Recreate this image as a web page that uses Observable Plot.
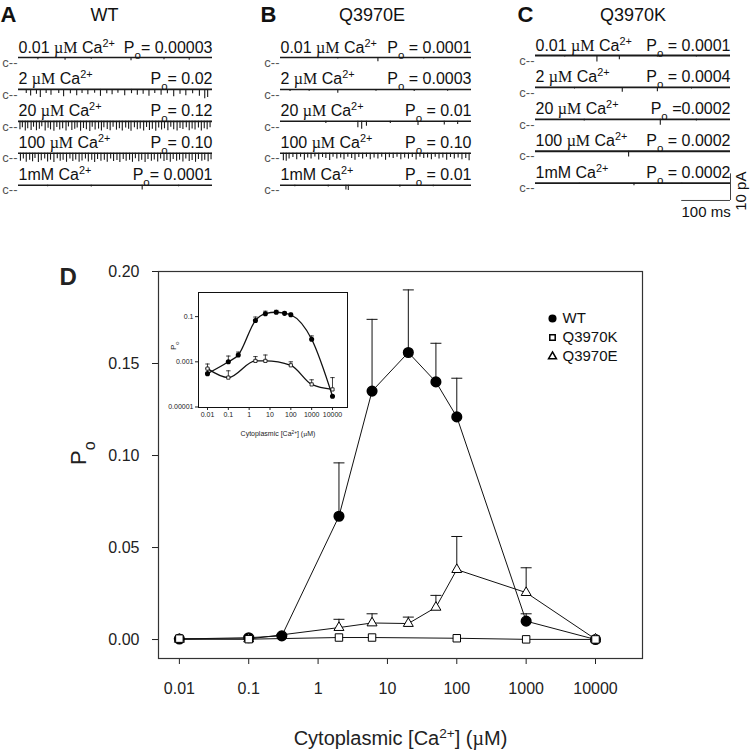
<!DOCTYPE html>
<html><head><meta charset="utf-8">
<script src="https://cdn.jsdelivr.net/npm/d3@7"></script>
<script src="https://cdn.jsdelivr.net/npm/@observablehq/plot@0.6"></script>
<style>
body{margin:0;background:#fff;}
#fig{position:relative;width:750px;height:750px;overflow:hidden;font-family:"Liberation Sans",Arial,sans-serif;color:#111;}
#fig svg{position:absolute;}
</style></head><body><div id="fig"></div>
<script>
// ---------- Panel D data ----------
const xTicks = [0.01, 0.1, 1, 10, 100, 1000, 10000];
const xTickLabels = ["0.01", "0.1", "1", "10", "100", "1000", "10000"];
const yTicks = [0, 0.05, 0.10, 0.15, 0.20];
const yTickLabels = ["0.00", "0.05", "0.10", "0.15", "0.20"];
const insetYTicks = [0.00001, 0.001, 0.1];
const insetYTickLabels = ["0.00001", "0.001", "0.1"];

const wtConc = [0.01, 0.1, 0.3, 2, 6, 20, 50, 100, 1000, 10000];
const wtPo   = [0.0003, 0.001, 0.002, 0.067, 0.135, 0.156, 0.140, 0.121, 0.010, 0.00003];
const wtErr  = [0.0002, 0.0008, 0.0007, 0.029, 0.039, 0.034, 0.021, 0.021, 0.004, 0];

const kConc = [0.01, 0.1, 2, 6, 100, 1000, 10000];
const kPo   = [0.0005, 0.0002, 0.0011, 0.0011, 0.0007, 0.0001, 0.00006];
const kErr  = [0.0003, 0.0002, 0.0006, 0.0009, 0.0003, 0.00006, 0.00014];

const eConc = [0.01, 0.1, 2, 6, 20, 50, 100, 1000, 10000];
const ePo   = [0.0001, 0.0003, 0.0065, 0.009, 0.0087, 0.0175, 0.038, 0.0255, 0.0002];
const eErr  = [0, 0, 0.0045, 0.005, 0.0035, 0.0065, 0.018, 0.0135, 0];

const legendNames = ["WT", "Q3970K", "Q3970E"];
const legendSymbols = ["circle", "square", "triangle"];
const legendFills = ["black", "white", "white"];

const xTitle = "Cytoplasmic [Ca^{2+}] (~{µ}M)";
const yTitle = "P_{o}";

// ---------- Panels A-C data (single-channel traces) ----------
const traceDuration = 400;      // ms
const scaleBarMs = 100;
const scaleBarPA = 10;
const caLabels = ["0.01 ~{µM} Ca^{2+}", "2 ~{µM} Ca^{2+}", "20 ~{µM} Ca^{2+}", "100 ~{µM} Ca^{2+}", "1mM Ca^{2+}"];
const poWT = ["P_{o}= 0.00003", "P_{o}= 0.02", "P_{o}= 0.12", "P_{o}= 0.10", "P_{o}= 0.0001"];
const poE  = ["P_{o} = 0.0001", "P_{o} = 0.0003", "P_{o} = 0.01", "P_{o} = 0.10", "P_{o} = 0.01"];
const poK  = ["P_{o} = 0.0001", "P_{o} = 0.0004", "P_{o} =0.0002", "P_{o} = 0.0002", "P_{o} = 0.0002"];

// openings: [time ms, amplitude pA]
const wtEvents = [
  [[40,0.8],[96,1.0],[150,0.7],[232,1.2],[300,0.8],[352,1.0]],
  [[16,1.5],[25,2.5],[37,1.8],[45,3],[57,1.5],[67,2.2],[83,1.5],[93,2.8],[107,1.6],[120,2.4],[131,1.5],[143,2],[157,1.4],[169,2.6],[182,1.6],[193,2],[205,1.4],[219,2.4],[233,1.6],[245,2.2],[257,1.8],[269,2.6],[281,1.5],[294,2.2],[307,1.6],[320,2.8],[333,1.8],[345,2.4],[359,1.6],[373,2.6],[384,3.5],[390,3]],
  [[3,3.2],[8,2.4],[14,3.6],[19,2.8],[26,3.4],[31,2.2],[37,3.5],[43,3.0],[48,2.0],[55,3.6],[61,2.6],[66,3.2],[73,3.7],[79,2.3],[85,3.3],[91,2.8],[98,3.6],[103,2.1],[110,3.4],[116,3.0],[121,2.5],[128,3.7],[134,2.7],[140,3.2],[147,3.8],[152,2.2],[158,3.3],[165,2.9],[171,3.6],[176,2.4],[183,3.1],[189,3.5],[195,2.2],[202,3.3],[208,2.8],[214,3.6],[221,2.5],[227,3.0],[232,3.7],[239,2.4],[245,3.2],[251,2.9],[258,3.6],[264,2.3],[270,3.4],[276,3.0],[283,3.7],[289,2.5],[295,3.3],[301,2.8],[308,3.5],[314,2.2],[320,3.2],[327,3.6],[333,2.7],[339,3.1],[346,2.4],[352,3.5],[358,2.9],[364,3.3],[371,2.5],[377,3.6],[383,2.8],[389,3.2],[395,2.4]],
  [[4,3.0],[10,2.2],[16,3.4],[23,2.6],[29,3.2],[34,2.0],[41,3.5],[47,2.8],[54,2.2],[60,3.3],[66,2.6],[73,3.5],[80,2.1],[86,3.0],[92,2.6],[99,3.4],[106,2.2],[112,3.1],[118,2.5],[125,3.4],[131,2.9],[138,2.2],[144,3.3],[151,2.6],[157,3.5],[163,2.3],[170,3.0],[177,2.6],[183,3.4],[190,2.2],[196,3.1],[203,2.7],[209,3.5],[216,2.3],[222,3.0],[229,2.6],[235,3.4],[241,2.1],[248,3.2],[254,2.6],[261,3.5],[267,2.3],[274,3.0],[280,2.5],[287,3.3],[293,2.2],[300,3.1],[306,2.7],[313,3.4],[319,2.3],[326,3.0],[332,2.6],[339,3.3],[345,2.2],[352,3.1],[358,2.7],[365,3.4],[371,2.3],[378,3.0],[384,2.6],[391,3.2],[397,2.4]],
  [[60,0.6],[150,0.7],[255,1.8],[330,0.6]]
];
const eEvents = [
  [[120,0.6],[204,1.6],[300,0.6]],
  [[20,0.8],[60,0.7],[120,1.4],[200,0.7],[280,0.8],[350,0.7]],
  [[95,0.8],[162,2.4],[170,3.0],[180,1.8],[230,0.8],[288,1.6],[343,1.4],[371,1.2]],
  [[6,2.8],[12,3.0],[18,2.2],[26,1.6],[34,2.4],[42,1.5],[50,2.6],[57,1.8],[64,2.2],[72,1.4],[80,2.5],[88,1.6],[95,2.0],[103,2.7],[110,1.5],[118,2.2],[126,1.8],[133,2.4],[141,1.5],[149,2.0],[156,2.6],[164,1.6],[172,2.2],[180,1.5],[188,2.4],[196,1.8],[204,2.2],[212,1.5],[220,2.6],[228,1.7],[236,2.0],[244,1.5],[252,2.4],[260,1.8],[268,2.2],[276,1.6],[284,2.5],[292,1.5],[300,2.0],[308,1.8],[316,2.4],[324,1.5],[332,2.2],[340,1.8],[348,2.6],[356,1.6],[364,2.2],[372,1.8],[380,2.4],[388,2.0],[395,2.8]],
  [[30,0.6],[100,0.7],[137,1.8],[142,2.0],[250,0.8],[320,0.6]]
];
const kEvents = [
  [[60,0.6],[126,2.4],[172,1.6],[250,0.6],[330,0.6]],
  [[80,0.6],[178,1.8],[250,1.6],[320,0.6]],
  [[100,0.6],[256,2.2],[330,0.6]],
  [[191,2.2]],
  [[90,0.5],[202,1.0],[300,0.5]]
];
const rowLevels = [0, -12, -24, -36, -48]; // pA offset of each sweep
const pxPerPA = 2.66;

// ---------- helpers ----------
const fig = document.getElementById("fig");
const FONT = "Liberation Sans, Arial, sans-serif";
function rich(svg) {
  svg.querySelectorAll("text").forEach(t => {
    const targets = t.querySelectorAll("tspan").length ? [...t.querySelectorAll("tspan")] : [t];
    targets.forEach(el => {
      const s = el.textContent;
      if (!/[\^_~]\{/.test(s)) return;
      el.textContent = "";
      const re = /([\^_~])\{([^}]*)\}/g;
      let last = 0, m;
      while ((m = re.exec(s))) {
        if (m.index > last) el.appendChild(document.createTextNode(s.slice(last, m.index)));
        const ts = document.createElementNS("http://www.w3.org/2000/svg", "tspan");
        ts.textContent = m[2];
        if (m[1] === "^") { ts.setAttribute("baseline-shift", "super"); ts.setAttribute("font-size", "68%"); }
        else if (m[1] === "_") { ts.setAttribute("baseline-shift", "sub"); ts.setAttribute("font-size", "72%"); }
        else { ts.setAttribute("font-family", "Liberation Serif, Times New Roman, serif"); }
        el.appendChild(ts);
        last = re.lastIndex;
      }
      if (last < s.length) el.appendChild(document.createTextNode(s.slice(last)));
    });
  });
}
function place(svg, left, top) {
  svg.style.left = left + "px";
  svg.style.top = top + "px";
  fig.appendChild(svg);
  rich(svg);
}
const capSymbol = {draw(ctx, size) { const w = Math.sqrt(size / Math.PI); ctx.moveTo(-w, 0); ctx.lineTo(w, 0); }};
const rec = (conc, po, err) => conc.map((c, i) => ({c, po: po[i], err: err[i]}));
const wt = rec(wtConc, wtPo, wtErr), kk = rec(kConc, kPo, kErr), ee = rec(eConc, ePo, eErr);
const fmtX = d => xTickLabels[xTicks.indexOf(d)];

// ---------- trace panels ----------
function tracePanel({letter, title, letterDx, titleDx, po, events, width, height, mL, mR, row0, lw, scaleBar}) {
  const rows = rowLevels.map((level, i) => ({level, t0: 0, t1: traceDuration, ca: caLabels[i], po: po[i]}));
  const ev = events.flatMap((row, i) => row.map(([t, a]) => ({t, level: rowLevels[i], a})));
  const marks = [
    Plot.ruleY(rows, {y: "level", x1: "t0", x2: "t1", stroke: "#1a1a1a", strokeWidth: lw}),
    Plot.ruleX(ev, {x: "t", y1: "level", y2: d => d.level - d.a, stroke: "#1a1a1a", strokeWidth: 1.1}),
    Plot.text(rows, {frameAnchor: "left", y: "level", text: () => "c--", textAnchor: "end", dx: -1, dy: 5, fontSize: 13, fill: "#555"}),
    Plot.text(rows, {x: "t0", y: "level", text: "ca", textAnchor: "start", lineAnchor: "bottom", dy: -5, fontSize: 16}),
    Plot.text(rows, {x: "t1", y: "level", text: "po", textAnchor: "end", lineAnchor: "bottom", dy: -5, fontSize: 16}),
    Plot.text([letter], {frameAnchor: "top-left", text: d => d, textAnchor: "start", lineAnchor: "bottom", dx: letterDx, dy: 21, fontSize: 22, fontWeight: "bold"}),
    Plot.text([title], {frameAnchor: "top", text: d => d, lineAnchor: "bottom", dx: titleDx, dy: 20, fontSize: 18})
  ];
  if (scaleBar) {
    const y0 = rowLevels[rowLevels.length - 1] - 6.5;
    const bar = [{x1: traceDuration - scaleBarMs, x2: traceDuration, xm: traceDuration - scaleBarMs / 2, y: y0, y2: y0 + scaleBarPA, ym: y0 + scaleBarPA / 2}];
    marks.push(
      Plot.ruleY(bar, {y: "y", x1: "x1", x2: "x2", stroke: "#444", strokeWidth: 1}),
      Plot.ruleX(bar, {x: "x2", y1: "y", y2: "y2", stroke: "#444", strokeWidth: 1}),
      Plot.text(bar, {x: "xm", y: "y", text: () => scaleBarMs + " ms", lineAnchor: "top", dy: 6, fontSize: 15}),
      Plot.text(bar, {x: "x2", y: "ym", text: () => scaleBarPA + " pA", rotate: -90, dx: 11, dy: 4, fontSize: 15})
    );
  }
  return Plot.plot({
    width, height, marginLeft: mL, marginRight: mR, marginTop: 0, marginBottom: 0,
    style: {background: "transparent", fontFamily: FONT, color: "#111", overflow: "visible"},
    x: {domain: [0, traceDuration], axis: null},
    y: {domain: [(row0 - height) / pxPerPA, row0 / pxPerPA], axis: null},
    marks
  });
}
place(tracePanel({letter: "A", title: "WT", letterDx: -18, titleDx: -11, po: poWT, events: wtEvents, width: 250, height: 200, mL: 18, mR: 38, row0: 57, lw: 1.6}), 0, 0);
place(tracePanel({letter: "B", title: "Q3970E", letterDx: -20, titleDx: -4, po: poE, events: eEvents, width: 250, height: 200, mL: 30, mR: 29, row0: 57, lw: 1.5}), 250, 0);
place(tracePanel({letter: "C", title: "Q3970K", letterDx: -18, titleDx: 0, po: poK, events: kEvents, width: 250, height: 235, mL: 35, mR: 20, row0: 55, lw: 1.8, scaleBar: true}), 500, 0);

// ---------- main panel D ----------
const main = Plot.plot({
  width: 750, height: 510, marginLeft: 158, marginRight: 108, marginTop: 31, marginBottom: 92,
  style: {background: "transparent", fontFamily: FONT, fontSize: "16px", color: "#222", overflow: "visible"},
  x: {type: "log", domain: [0.005, 47600], ticks: xTicks, tickFormat: fmtX, tickSize: 6, tickPadding: 18, label: null},
  y: {domain: [-0.0103, 0.2], ticks: yTicks, tickFormat: d => yTickLabels[yTicks.indexOf(d)], tickSize: 6, tickPadding: 13, label: null},
  marks: [
    Plot.frame({stroke: "#333", strokeWidth: 1.2}),
    Plot.line(ee, {x: "c", y: "po", stroke: "#111", strokeWidth: 1}),
    Plot.line(kk, {x: "c", y: "po", stroke: "#111", strokeWidth: 1}),
    Plot.line(wt, {x: "c", y: "po", stroke: "#111", strokeWidth: 1}),
    Plot.ruleX([...wt, ...ee].filter(d => d.err > 0), {x: "c", y1: "po", y2: d => d.po + d.err, stroke: "#111", strokeWidth: 1}),
    Plot.dot([...wt, ...ee].filter(d => d.err > 0), {x: "c", y: d => d.po + d.err, symbol: capSymbol, r: 5.5, fill: "none", stroke: "#111", strokeWidth: 1}),
    Plot.dot(wt, {x: "c", y: "po", r: 4.8, fill: "black", stroke: "black"}),
    Plot.dot(ee, {x: "c", y: "po", symbol: "triangle", r: 3.7, fill: "white", stroke: "black", strokeWidth: 1}),
    Plot.dot(kk, {x: "c", y: "po", symbol: "square", r: 4.2, fill: "white", stroke: "black", strokeWidth: 1}),
    Plot.text([xTitle], {frameAnchor: "bottom", text: d => d, lineAnchor: "bottom", dy: 86, fontSize: 20}),
    Plot.text([yTitle], {frameAnchor: "left", text: d => d, rotate: -90, dx: -80, fontSize: 22}),
    Plot.text(["D"], {frameAnchor: "top-left", text: d => d, textAnchor: "start", lineAnchor: "bottom", dx: -99, dy: 13, fontSize: 24, fontWeight: "bold"})
  ]
});
place(main, 0, 240);

// ---------- legend ----------
const legendData = legendNames.map((name, i) => ({name, symbol: legendSymbols[i], fill: legendFills[i]}));
const legend = Plot.plot({
  width: 110, height: 60, margin: 0,
  style: {background: "transparent", fontFamily: FONT, color: "#111"},
  x: {axis: null}, y: {type: "point", domain: legendNames, range: [10, 48], padding: 0, axis: null},
  symbol: {type: "identity"}, color: {type: "identity"},
  marks: [
    Plot.dot(legendData, {y: "name", frameAnchor: "left", dx: 10, symbol: "symbol", fill: "fill", stroke: "black", r: d => d.symbol === "circle" ? 4.2 : d.symbol === "square" ? 3.6 : 3.3}),
    Plot.text(legendData, {y: "name", frameAnchor: "left", dx: 20, text: "name", textAnchor: "start", fontSize: 15})
  ]
});
place(legend, 542, 308);

// ---------- inset ----------
const inset = Plot.plot({
  width: 210, height: 165, marginLeft: 48, marginRight: 13, marginTop: 12, marginBottom: 38,
  style: {background: "transparent", fontFamily: FONT, fontSize: "7px", color: "#222", overflow: "visible"},
  x: {type: "log", domain: [0.0037, 52500], ticks: xTicks, tickFormat: fmtX, tickSize: 3, tickPadding: 2, label: null},
  y: {type: "log", domain: [0.0000095, 1.17], ticks: insetYTicks, tickFormat: d => insetYTickLabels[insetYTicks.indexOf(d)], tickSize: 3, tickPadding: 2, label: null},
  marks: [
    Plot.frame({stroke: "#111", strokeWidth: 1}),
    Plot.line(kk, {x: "c", y: "po", stroke: "#111", strokeWidth: 1.3, curve: "monotone-x"}),
    Plot.line(wt, {x: "c", y: "po", stroke: "#111", strokeWidth: 1.3, curve: "monotone-x"}),
    Plot.ruleX([...wt, ...kk].filter(d => d.err > 0), {x: "c", y1: "po", y2: d => d.po + d.err, stroke: "#111", strokeWidth: 0.8}),
    Plot.dot([...wt, ...kk].filter(d => d.err > 0), {x: "c", y: d => d.po + d.err, symbol: capSymbol, r: 2.2, fill: "none", stroke: "#111", strokeWidth: 0.8}),
    Plot.dot(wt, {x: "c", y: "po", r: 1.8, fill: "black", stroke: "black"}),
    Plot.dot(kk, {x: "c", y: "po", symbol: "square", r: 1.8, fill: "white", stroke: "black", strokeWidth: 0.8}),
    Plot.text([xTitle], {frameAnchor: "bottom", text: d => d, dy: 28, dx: 5, fontSize: 7}),
    Plot.text([yTitle], {frameAnchor: "left", text: d => d, rotate: -90, dx: -25, fontSize: 8})
  ]
});
place(inset, 150, 280);
</script></body></html>
